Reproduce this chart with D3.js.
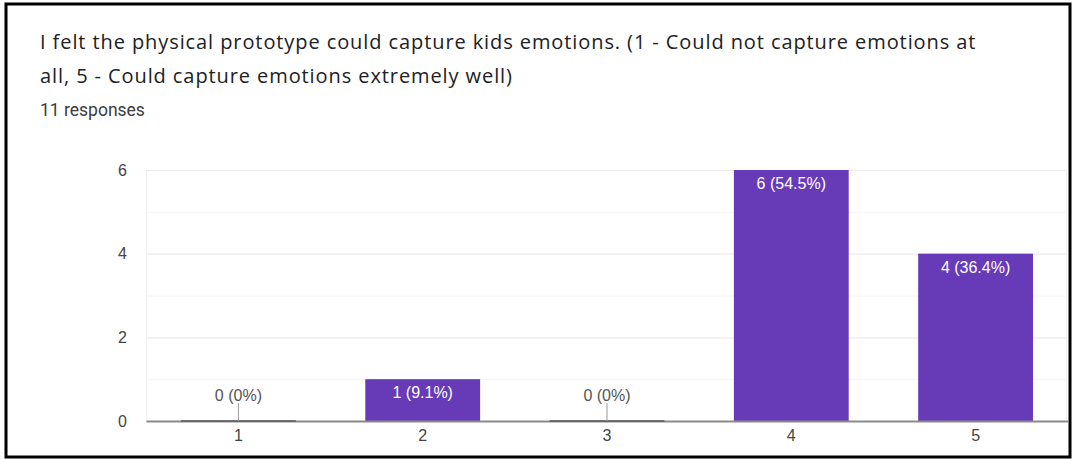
<!DOCTYPE html>
<html>
<head>
<meta charset="utf-8">
<script src="https://cdn.jsdelivr.net/npm/d3@7"></script>
<style>
  html, body { margin: 0; padding: 0; background: #fff; }
  svg { display: block; }
</style>
</head>
<body>
<svg id="chart" width="1072" height="459"></svg>
<script>
// Survey question: rating distribution
const titleLines = [
  "I felt the physical prototype could capture kids emotions. (1 - Could not capture emotions at",
  "all, 5 - Could capture emotions extremely well)"
];
const subtitle = "11 responses";
const categories = ["1", "2", "3", "4", "5"];
const counts = [0, 1, 0, 6, 4];
const percents = ["0%", "9.1%", "0%", "54.5%", "36.4%"];
const yTicks = [0, 2, 4, 6];
const yMinorTicks = [1, 3, 5];

(function draw() {
  const svg = d3.select("#chart");
  const labelFont = "'Liberation Sans', Arial, sans-serif";

  // frame
  svg.append("rect")
    .attr("x", 6).attr("y", 4)
    .attr("width", 1064).attr("height", 453)
    .attr("fill", "#fff").attr("stroke", "#000").attr("stroke-width", 3);

  // heading: the first line spans the card's text width, spacing tuned to fill it
  const titleWidth = 935;
  const titles = svg.append("g")
    .attr("font-family", "'Open Sans', Roboto, sans-serif")
    .attr("font-size", 20)
    .attr("fill", "#202124")
    .selectAll("text").data(titleLines).join("text")
    .attr("x", 40)
    .attr("y", (d, i) => 49 + i * 34)
    .text(d => d);
  const firstLen = titles.node().getComputedTextLength();
  const spacing = Math.max(0, (titleWidth - firstLen) / (titleLines[0].length - 1));
  titles.attr("letter-spacing", spacing.toFixed(2));

  svg.append("text")
    .attr("x", 40).attr("y", 116)
    .attr("font-family", "Roboto, 'Liberation Sans', sans-serif")
    .attr("font-size", 17.5)
    .attr("fill", "#3c3c3c")
    .text(subtitle);

  // plot area
  const pLeft = 146, pRight = 1068, pTop = 170, pBottom = 421;
  const x = d3.scaleBand().domain(categories).range([pLeft, pRight]).paddingInner(0.377).paddingOuter(0.19);
  const y = d3.scaleLinear().domain([0, 6]).range([pBottom, pTop]);

  // minor gridlines
  svg.append("g").selectAll("line").data(yMinorTicks).join("line")
    .attr("x1", pLeft).attr("x2", pRight - 2)
    .attr("y1", d => y(d) + 0.5).attr("y2", d => y(d) + 0.5)
    .attr("stroke", "#f4f4f4").attr("stroke-width", 1);

  // major gridlines + y labels
  const yAxis = d3.axisLeft(y).tickValues(yTicks).tickFormat(d3.format("d"))
    .tickSize(-(pRight - 2 - pLeft)).tickPadding(19);
  const yg = svg.append("g").attr("transform", `translate(${pLeft},0)`).call(yAxis);
  yg.select(".domain").remove();
  yg.selectAll(".tick line").attr("stroke", "#ebebeb").attr("stroke-width", 1.2);
  yg.selectAll(".tick text")
    .attr("font-family", labelFont)
    .attr("font-size", 16).attr("fill", "#444");

  // faint plot edges
  svg.append("line").attr("x1", pLeft + 0.5).attr("x2", pLeft + 0.5).attr("y1", pTop).attr("y2", pBottom)
    .attr("stroke", "#f0f0f0");
  svg.append("line").attr("x1", pRight - 1.5).attr("x2", pRight - 1.5).attr("y1", pTop).attr("y2", pBottom)
    .attr("stroke", "#f0f0f0");

  const rows = categories.map((c, i) => ({ cat: c, v: counts[i], pct: percents[i] }));

  // bars
  svg.append("g").selectAll("rect").data(rows.filter(d => d.v > 0)).join("rect")
    .attr("x", d => x(d.cat))
    .attr("y", d => y(d.v))
    .attr("width", x.bandwidth())
    .attr("height", d => y(0) - y(d.v))
    .attr("fill", "#673ab7");

  // baseline
  const xAxis = d3.axisBottom(x).tickSize(0).tickPadding(9);
  const xg = svg.append("g").attr("transform", `translate(0,${pBottom})`).call(xAxis);
  xg.select(".domain").attr("stroke", "#8a8a8a").attr("stroke-width", 2);
  xg.selectAll(".tick text")
    .attr("font-family", labelFont)
    .attr("font-size", 16).attr("fill", "#444");

  // zero-value bars appear as a dark strip on the baseline
  svg.append("g").selectAll("line").data(rows.filter(d => d.v === 0)).join("line")
    .attr("x1", d => x(d.cat)).attr("x2", d => x(d.cat) + x.bandwidth())
    .attr("y1", pBottom).attr("y2", pBottom)
    .attr("stroke", "#5a5a5a").attr("stroke-width", 1.5);

  // value labels
  const lbl = svg.append("g")
    .attr("font-family", labelFont)
    .attr("font-size", 16).attr("text-anchor", "middle");
  lbl.selectAll("text.in").data(rows.filter(d => d.v > 0)).join("text")
    .attr("class", "in")
    .attr("x", d => x(d.cat) + x.bandwidth() / 2)
    .attr("y", d => y(d.v) + 19)
    .attr("fill", "#fff")
    .text(d => `${d.v} (${d.pct})`);
  const zeroRows = rows.filter(d => d.v === 0);
  lbl.selectAll("line.lead").data(zeroRows).join("line")
    .attr("class", "lead")
    .attr("x1", d => x(d.cat) + x.bandwidth() / 2).attr("x2", d => x(d.cat) + x.bandwidth() / 2)
    .attr("y1", pBottom - 18).attr("y2", pBottom)
    .attr("stroke", "#999").attr("stroke-width", 1);
  lbl.selectAll("text.out").data(zeroRows).join("text")
    .attr("class", "out")
    .attr("x", d => x(d.cat) + x.bandwidth() / 2)
    .attr("y", pBottom - 20)
    .attr("fill", "#555")
    .text(d => `${d.v} (${d.pct})`);
})();
</script>
</body>
</html>
